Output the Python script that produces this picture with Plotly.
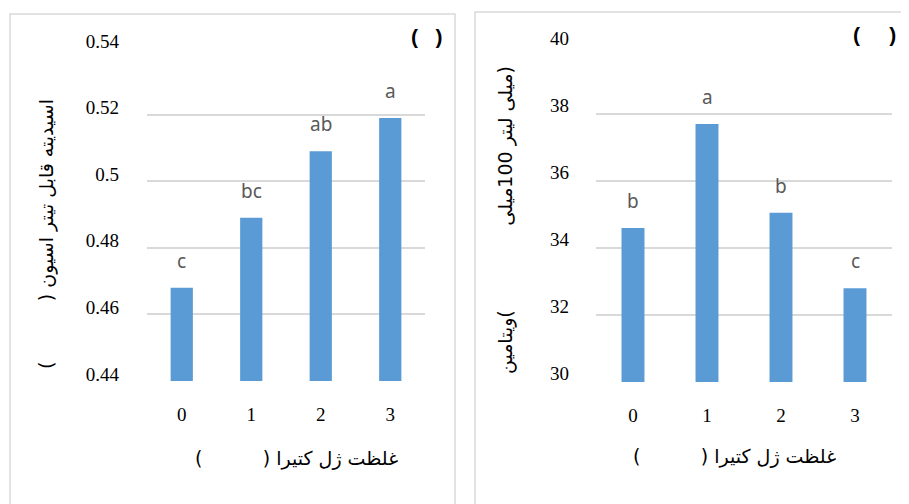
import plotly.graph_objects as go

# ---------------- data ----------------
categories = ["0", "1", "2", "3"]
acidity = [0.468, 0.489, 0.509, 0.519]
acidity_letters = ["c", "bc", "ab", "a"]
vitc = [34.6, 37.7, 35.05, 32.8]
vitc_letters = ["b", "a", "b", "c"]

acid_ticks = [0.44, 0.46, 0.48, 0.50, 0.52, 0.54]
acid_ticktext = ["0.44", "0.46", "0.48", "0.5", "0.52", "0.54"]
vit_ticks = [30, 32, 34, 36, 38, 40]
vit_ticktext = ["30", "32", "34", "36", "38", "40"]

RLM = "\u200f"
NB = "\u00a0"
xtitle = RLM + "غلظت ژل کتیرا (" + NB * 10 + ")" + RLM
ytitle_left = RLM + "اسیدیته قابل تیتر اسیون (" + NB * 10 + ")" + RLM
ytitle_right = RLM + "(میلی لیتر 100میلی" + NB * 14 + ")ویتامین" + RLM
panel_left = "(" + NB * 3 + ")"
panel_right = "(" + NB * 5 + ")"

W, H = 909, 504
OFF = 8  # page body margin of the html page
BAR = "#5b9bd5"
GRID = "#d9d9d9"
TICKFONT = dict(family="Liberation Serif", size=19, color="#000000")
LETTERFONT = dict(family="Noto Sans", size=19, color="#595959")
AR = dict(family="DejaVu Sans", size=19, color="#000000")


def px(x):
    return (x - OFF) / W


def py(y):
    return 1 - (y - OFF) / H


fig = go.Figure()
fig.add_trace(go.Bar(x=categories, y=acidity, marker_color=BAR, width=0.32,
                     xaxis="x", yaxis="y", showlegend=False, hoverinfo="skip"))
fig.add_trace(go.Bar(x=categories, y=vitc, marker_color=BAR, width=0.31,
                     xaxis="x2", yaxis="y2", showlegend=False, hoverinfo="skip"))

annotations = []
for c, v, t in zip(categories, acidity, acidity_letters):
    annotations.append(dict(x=c, y=v, xref="x", yref="y", text=t, showarrow=False,
                            yanchor="bottom", yshift=12, font=LETTERFONT))
for c, v, t in zip(categories, vitc, vitc_letters):
    annotations.append(dict(x=c, y=v, xref="x2", yref="y2", text=t, showarrow=False,
                            yanchor="bottom", yshift=12, font=LETTERFONT))

annotations += [
    dict(x=px(296), y=py(458), xref="paper", yref="paper", text=xtitle, showarrow=False,
         xanchor="center", yanchor="middle", font=AR),
    dict(x=px(734), y=py(456), xref="paper", yref="paper", text=xtitle, showarrow=False,
         xanchor="center", yanchor="middle", font=AR),
    dict(x=px(47), y=py(234), xref="paper", yref="paper", text=ytitle_left, showarrow=False,
         textangle=-90, xanchor="center", yanchor="middle", font=AR),
    dict(x=px(505), y=py(220), xref="paper", yref="paper", text=ytitle_right, showarrow=False,
         textangle=-90, xanchor="center", yanchor="middle", font=AR),
    dict(x=px(427), y=py(36), xref="paper", yref="paper", text="<b>" + panel_left + "</b>",
         showarrow=False, xanchor="center", yanchor="middle",
         font=dict(family="Liberation Sans", size=21, color="#000000")),
    dict(x=px(874), y=py(34), xref="paper", yref="paper", text="<b>" + panel_right + "</b>",
         showarrow=False, xanchor="center", yanchor="middle",
         font=dict(family="Liberation Sans", size=21, color="#000000")),
]

shapes = [
    dict(type="rect", xref="paper", yref="paper", x0=px(10), x1=px(455), y0=py(14), y1=py(530),
         line=dict(color=GRID, width=1.5), layer="below"),
    dict(type="rect", xref="paper", yref="paper", x0=px(475), x1=px(940), y0=py(12), y1=py(530),
         line=dict(color=GRID, width=1.5), layer="below"),
]

common_x = dict(type="category", showgrid=False, showline=False, ticks="", automargin=False,
                tickfont=TICKFONT, ticklabelstandoff=20, fixedrange=True)

fig.update_layout(
    template="none",
    width=W, height=H,
    margin=dict(l=0, r=0, t=0, b=0, pad=0),
    paper_bgcolor="white", plot_bgcolor="white",
    xaxis=dict(domain=[px(147), px(425)], anchor="y", **common_x),
    yaxis=dict(domain=[py(381), py(48)], anchor="x", range=[0.44, 0.54], automargin=False,
               tickvals=acid_ticks, ticktext=acid_ticktext, showgrid=True, gridcolor=GRID,
               gridwidth=1.5, zeroline=False, showline=False, ticks="", tickfont=TICKFONT,
               ticklabelstandoff=27, ticklabelshift=-7, fixedrange=True),
    xaxis2=dict(domain=[px(596), px(892)], anchor="y2", **common_x),
    yaxis2=dict(domain=[py(382), py(47)], anchor="x2", range=[30, 40], automargin=False,
                tickvals=vit_ticks, ticktext=vit_ticktext, showgrid=True, gridcolor=GRID,
                gridwidth=1.5, zeroline=False, showline=False, ticks="", tickfont=TICKFONT,
                ticklabelstandoff=26, ticklabelshift=-9, fixedrange=True),
    annotations=annotations,
    shapes=shapes,
    showlegend=False,
)

fig.write_html("out.html")
